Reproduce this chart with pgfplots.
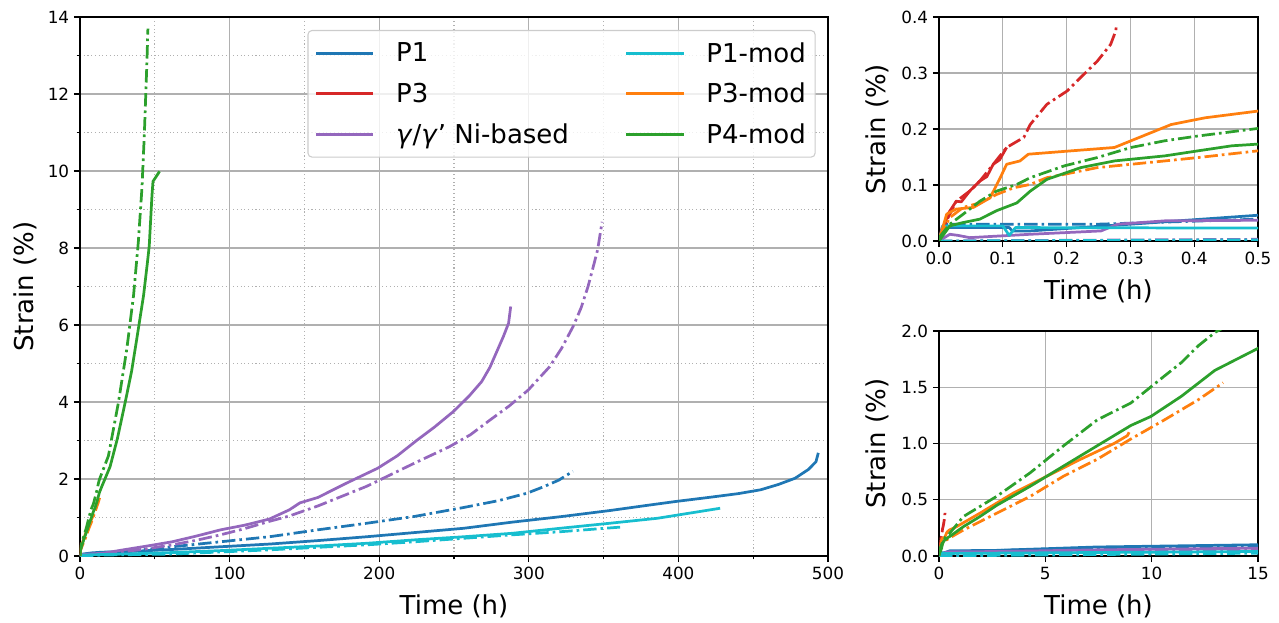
\documentclass[border=0pt]{standalone}
\usepackage{pgfplots}
\usepackage{pgfplotstable}
\pgfplotsset{compat=1.18}
\usepackage{fontspec}
\setmainfont{DejaVu Sans}
\definecolor{cA}{HTML}{1F77B4}
\definecolor{cB}{HTML}{FF7F0E}
\definecolor{cC}{HTML}{2CA02C}
\definecolor{cD}{HTML}{D62728}
\definecolor{cE}{HTML}{9467BD}
\definecolor{cJ}{HTML}{17BECF}
\definecolor{gridgray}{HTML}{B0B0B0}

% ---------------- data (time h, strain %) ----------------
\pgfplotstableread[row sep=\\]{t s\\
0 0\\ 0.006 0.024\\ 0.11 0.024\\ 0.115 0.018\\ 0.143 0.018\\ 0.3 0.03\\ 0.5 0.046\\
2.7 0.05\\ 7.4 0.08\\ 15 0.1\\ 29 0.11\\ 61.7 0.17\\ 94 0.24\\ 126.6 0.31\\ 159 0.4\\
191.6 0.5\\ 224 0.61\\ 256.5 0.72\\ 289 0.88\\ 321 1.02\\ 354 1.18\\ 380 1.32\\ 399 1.42\\
420 1.52\\ 440 1.62\\ 455 1.72\\ 467 1.86\\ 478 2.02\\ 487 2.25\\ 492 2.45\\ 493.5 2.68\\}\PAa
\pgfplotstableread[row sep=\\]{t s\\
0 0\\ 0.012 0.03\\ 0.248 0.03\\ 0.5 0.039\\ 5 0.06\\ 15 0.09\\ 29 0.11\\ 61.7 0.24\\
94 0.37\\ 126.6 0.5\\ 159 0.68\\ 191.6 0.85\\ 224 1.03\\ 256.5 1.26\\ 280 1.44\\ 298.7 1.63\\
310 1.8\\ 320 1.97\\ 329.5 2.2\\}\PAb
\pgfplotstableread[row sep=\\]{t s\\
0 0\\ 0.005 0.025\\ 0.009 0.03\\ 0.015 0.05\\ 0.027 0.071\\ 0.035 0.07\\ 0.048 0.089\\
0.064 0.107\\ 0.075 0.115\\ 0.085 0.137\\ 0.095 0.145\\ 0.106 0.167\\}\PCa
\pgfplotstableread[row sep=\\]{t s\\
0 0\\ 0.009 0.03\\ 0.027 0.071\\ 0.048 0.089\\ 0.064 0.107\\ 0.085 0.137\\ 0.106 0.167\\
0.133 0.185\\ 0.143 0.208\\ 0.169 0.244\\ 0.201 0.268\\ 0.222 0.292\\ 0.248 0.321\\
0.269 0.351\\ 0.277 0.375\\ 0.278 0.384\\}\PCb
\pgfplotstableread[row sep=\\]{t s\\
0 0\\ 0.017 0.012\\ 0.03 0.01\\ 0.048 0.006\\ 0.143 0.012\\ 0.254 0.018\\ 0.28 0.03\\
0.354 0.036\\ 0.5 0.037\\ 3 0.04\\ 7.5 0.055\\ 15 0.07\\ 29 0.16\\ 45 0.26\\ 61.7 0.37\\
78 0.52\\ 94 0.68\\ 110 0.8\\ 126.6 0.96\\ 140 1.2\\ 147 1.38\\ 159 1.52\\ 178 1.89\\
199 2.28\\ 212 2.6\\ 225 3.0\\ 237 3.35\\ 249.5 3.75\\ 260 4.15\\ 268.5 4.53\\ 274 4.9\\
278.5 5.3\\ 283 5.7\\ 286.5 6.05\\ 287.9 6.48\\}\NIa
\pgfplotstableread[row sep=\\]{t s\\
0 0\\ 0.5 0.003\\ 5 0.03\\ 15 0.06\\ 29 0.11\\ 45 0.19\\ 61.7 0.29\\ 78 0.41\\ 94 0.55\\
110 0.71\\ 126.6 0.9\\ 140 1.04\\ 159 1.3\\ 175 1.55\\ 191.6 1.81\\ 207 2.1\\ 224 2.42\\
247 2.84\\ 261 3.15\\ 274 3.53\\ 287 3.9\\ 299.6 4.31\\ 314 4.92\\ 322 5.4\\ 329.6 5.96\\
335 6.45\\ 339.6 7.0\\ 343 7.5\\ 346 7.95\\ 349 8.68\\}\NIb
\pgfplotstableread[row sep=\\]{t s\\
0 0\\ 0.006 0.027\\ 0.1 0.027\\ 0.11 0.01\\ 0.12 0.024\\ 0.5 0.023\\ 15 0.04\\
29 0.05\\ 61.7 0.09\\ 94 0.14\\ 126.6 0.2\\ 159 0.26\\ 191.6 0.33\\ 224 0.42\\ 256.5 0.5\\
289 0.59\\ 321 0.72\\ 354 0.85\\ 386 0.98\\ 427.9 1.24\\}\MAa
\pgfplotstableread[row sep=\\]{t s\\
0 0\\ 0.5 0.002\\ 15 0.025\\ 61.7 0.05\\ 126.6 0.16\\ 191.6 0.29\\ 224 0.37\\
256.5 0.46\\ 289 0.55\\ 321 0.63\\ 361 0.75\\}\MAb
\pgfplotstableread[row sep=\\]{t s\\
0 0\\ 0.012 0.048\\ 0.027 0.057\\ 0.054 0.06\\ 0.08 0.077\\ 0.096 0.113\\ 0.106 0.137\\
0.127 0.143\\ 0.14 0.155\\ 0.275 0.167\\ 0.301 0.179\\ 0.364 0.208\\ 0.417 0.22\\
0.5 0.232\\ 0.82 0.26\\ 1.92 0.38\\ 3.5 0.56\\ 5.08 0.71\\ 6.66 0.86\\ 8.23 1.0\\
8.86 1.07\\ 8.94 1.1\\}\MCa
\pgfplotstableread[row sep=\\]{t s\\
0 0.006\\ 0.017 0.042\\ 0.038 0.06\\ 0.064 0.068\\ 0.09 0.083\\ 0.117 0.095\\
0.143 0.101\\ 0.169 0.113\\ 0.196 0.119\\ 0.248 0.131\\ 0.301 0.137\\ 0.354 0.143\\
0.406 0.149\\ 0.5 0.161\\ 1.14 0.23\\ 2.71 0.38\\ 4.29 0.53\\ 5.86 0.71\\ 7.44 0.86\\
9.02 1.04\\ 10.6 1.21\\ 12.2 1.39\\ 13.36 1.54\\}\MCb
\pgfplotstableread[row sep=\\]{t s\\
0 0\\ 0.017 0.027\\ 0.038 0.033\\ 0.064 0.039\\ 0.09 0.054\\ 0.122 0.068\\ 0.143 0.089\\
0.169 0.11\\ 0.222 0.131\\ 0.275 0.143\\ 0.354 0.152\\ 0.406 0.161\\ 0.459 0.17\\
0.5 0.173\\ 1.14 0.26\\ 1.92 0.35\\ 2.71 0.45\\ 4.29 0.62\\ 5.86 0.8\\ 7.44 0.98\\
9.02 1.16\\ 9.96 1.24\\ 11.4 1.42\\ 12.97 1.65\\ 14.94 1.84\\ 20.1 2.32\\ 25 3.05\\ 30.2 3.99\\
34.5 4.8\\ 38 5.65\\ 42.5 6.77\\ 45 7.6\\ 46.3 8.06\\ 48.1 9.36\\ 48.8 9.73\\ 53.2 9.99\\}\MDa
\pgfplotstableread[row sep=\\]{t s\\
0 0.006\\ 0.017 0.03\\ 0.038 0.048\\ 0.064 0.071\\ 0.09 0.089\\ 0.122 0.101\\
0.143 0.113\\ 0.196 0.134\\ 0.248 0.149\\ 0.301 0.167\\ 0.354 0.179\\ 0.406 0.1875\\
0.5 0.201\\ 1.14 0.35\\ 2.71 0.53\\ 4.29 0.74\\ 5.86 0.98\\ 7.44 1.21\\ 9.02 1.36\\
9.81 1.48\\ 10.6 1.6\\ 11.4 1.72\\ 12.2 1.87\\ 13.0 1.99\\ 19 2.6\\ 25.7 3.99\\
31.3 5.38\\ 35.8 6.77\\ 39 8.16\\ 41.4 9.55\\ 43 10.94\\ 44.7 12.79\\ 45.4 13.7\\}\MDb

\tikzset{dashdot mpl/.style={dash pattern=on 10pt off 3pt on 2pt off 3pt}}

\newcommand{\allplots}{%
\addplot[forget plot,cA,solid] table[x=t,y=s] {\PAa};
\addplot[forget plot,cA,dashdot mpl] table[x=t,y=s] {\PAb};
\addplot[forget plot,cD,solid] table[x=t,y=s] {\PCa};
\addplot[forget plot,cD,dashdot mpl] table[x=t,y=s] {\PCb};
\addplot[forget plot,cE,solid] table[x=t,y=s] {\NIa};
\addplot[forget plot,cE,dashdot mpl] table[x=t,y=s] {\NIb};
\addplot[forget plot,cJ,solid] table[x=t,y=s] {\MAa};
\addplot[forget plot,cJ,dashdot mpl] table[x=t,y=s] {\MAb};
\addplot[forget plot,cB,solid] table[x=t,y=s] {\MCa};
\addplot[forget plot,cB,dashdot mpl] table[x=t,y=s] {\MCb};
\addplot[forget plot,cC,solid] table[x=t,y=s] {\MDa};
\addplot[forget plot,cC,dashdot mpl] table[x=t,y=s] {\MDb};
}

\pgfplotsset{
  mpl/.style={
    scale only axis,
    axis line style={line width=0.9pt},
    tick align=outside, xtick pos=bottom, ytick pos=left,
    major tick length=4.6pt, minor tick length=2.6pt,
    every tick/.style={black, line width=0.9pt},
    major grid style={color=gridgray, line width=0.9pt},
    minor grid style={color=gridgray, line width=0.8pt, dotted},
    tick label style={font=\fontsize{12.6}{15}\selectfont},
    label style={font=\fontsize{19.5}{23}\selectfont},
    /pgf/number format/assume math mode=true,
    every axis plot/.append style={line width=2.05pt, line join=round},
  },
}

\begin{document}
\begin{tikzpicture}
\path[use as bounding box] (0,0) rectangle (959.25pt,466.5pt);

% ---------------- main axis ----------------
\begin{axis}[mpl,
  at={(60pt,49.5pt)}, anchor=south west,
  width=561pt, height=404.25pt,
  xmin=0, xmax=500, ymin=0, ymax=14,
  xtick={0,100,...,500}, ytick={0,2,...,14},
  minor xtick={50,150,...,450}, minor ytick={1,3,...,13},
  grid=both,
  xlabel={Time (h)}, ylabel={Strain (\%)},
  xlabel style={at={(axis description cs:0.5,-0.1076)}, anchor=base},
  ylabel style={at={(axis description cs:-0.0628,0.5)}, anchor=base},
  legend columns=2,
  legend cell align=left,
  legend image code/.code={\draw[#1] (0pt,0pt) -- (43pt,0pt);},
  legend style={at={(axis description cs:0.3041,0.9759)}, anchor=north west,
    font=\fontsize{19.5}{23}\selectfont,
    draw=black!20, line width=0.8pt, rounded corners=3pt,
    fill=white, fill opacity=0.8, text opacity=1,
    inner xsep=5pt, inner ysep=7pt, row sep=10pt,
    /tikz/every even column/.append style={column sep=40pt},
    /tikz/every odd column/.append style={column sep=14pt}},
]
\allplots
\addlegendimage{cA,solid,line width=2.1pt}\addlegendentry{P1}
\addlegendimage{cJ,solid,line width=2.1pt}\addlegendentry{P1-mod}
\addlegendimage{cD,solid,line width=2.1pt}\addlegendentry{P3}
\addlegendimage{cB,solid,line width=2.1pt}\addlegendentry{P3-mod}
\addlegendimage{cE,solid,line width=2.1pt}\addlegendentry{\textit{γ}/\textit{γ}\symbol{39} Ni-based}
\addlegendimage{cC,solid,line width=2.1pt}\addlegendentry{P4-mod}
\end{axis}

% ---------------- top-right inset ----------------
\begin{axis}[mpl,
  at={(704.25pt,285.75pt)}, anchor=south west,
  width=239.25pt, height=168pt,
  xmin=0, xmax=0.5, ymin=0, ymax=0.4,
  xtick={0,0.1,...,0.5}, ytick={0,0.1,...,0.4},
  xticklabels={0.0,0.1,0.2,0.3,0.4,0.5},
  yticklabels={0.0,0.1,0.2,0.3,0.4},
  grid=major,
  restrict x to domain=0:1.2,
  xlabel={Time (h)}, ylabel={Strain (\%)},
  xlabel style={at={(axis description cs:0.5,-0.259)}, anchor=base},
  ylabel style={at={(axis description cs:-0.169,0.5)}, anchor=base},
]
\allplots
\end{axis}

% ---------------- bottom-right inset ----------------
\begin{axis}[mpl,
  at={(704.25pt,49.5pt)}, anchor=south west,
  width=239.25pt, height=168.75pt,
  xmin=0, xmax=15, ymin=0, ymax=2,
  xtick={0,5,10,15}, ytick={0,0.5,...,2},
  yticklabels={0.0,0.5,1.0,1.5,2.0},
  grid=major,
  restrict x to domain=0:21,
  xlabel={Time (h)}, ylabel={Strain (\%)},
  xlabel style={at={(axis description cs:0.5,-0.258)}, anchor=base},
  ylabel style={at={(axis description cs:-0.169,0.5)}, anchor=base},
]
\allplots
\end{axis}
\end{tikzpicture}
\end{document}
